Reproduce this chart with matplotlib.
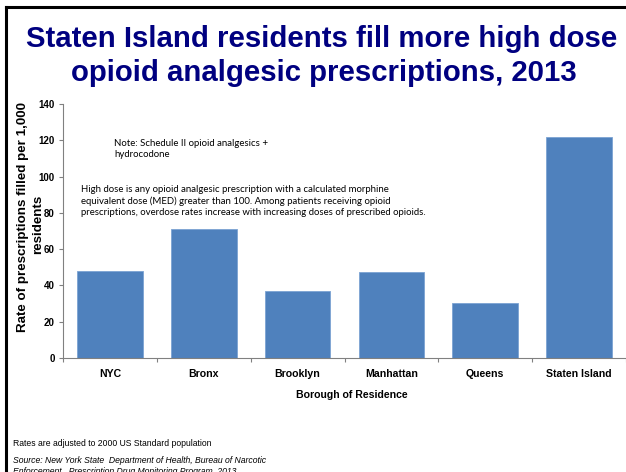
import matplotlib
matplotlib.use("Agg")
import matplotlib.pyplot as plt
from matplotlib.lines import Line2D

categories = ["NYC", "Bronx", "Brooklyn", "Manhattan", "Queens", "Staten Island"]
values = [47.7, 70.9, 37.0, 47.3, 30.4, 121.8]
yticks = [0, 20, 40, 60, 80, 100, 120, 140]

W, H = 626, 472
fig = plt.figure(figsize=(W / 100, H / 100), dpi=100)
fig.patch.set_facecolor("white")

# slide frame
fig.add_artist(Line2D([6 / W, 6 / W], [0, 1 - 7 / H], color="black", lw=2.2, transform=fig.transFigure))
fig.add_artist(Line2D([6 / W, 1], [1 - 7 / H, 1 - 7 / H], color="black", lw=2.2, transform=fig.transFigure))

title_font = "Liberation Sans"
fig.text(322 / W, 1 - 39 / H, "Staten Island residents fill more high dose",
         ha="center", va="center", fontsize=21.2, fontweight="bold", color="#000080", family=title_font)
fig.text(324 / W, 1 - 73 / H, "opioid analgesic prescriptions, 2013",
         ha="center", va="center", fontsize=21.2, fontweight="bold", color="#000080", family=title_font)

ax = fig.add_axes([63 / W, 1 - 358 / H, 1 - 63 / W, (358 - 104) / H])
x = list(range(len(categories)))
ax.bar(x, values, width=0.7, color="#4F81BD", edgecolor="#7BA3D3", linewidth=0.6, zorder=2)
ax.set_xlim(-0.5, len(categories) - 0.5)
ax.set_ylim(0, 140)
ax.set_yticks(yticks)
ax.set_yticklabels([str(v) for v in yticks], fontsize=7, fontweight="bold", family=title_font)
ax.set_xticks(x)
ax.set_xticklabels(categories, fontsize=7.6, fontweight="bold", family=title_font)
ax.tick_params(axis="x", length=0, pad=8)
ax.tick_params(axis="y", length=3, color="#808080", width=0.8, pad=3)
# minor ticks between categories
ax.set_xticks([i + 0.5 for i in range(-1, len(categories))], minor=True)
ax.tick_params(axis="x", which="minor", length=3, color="#808080", width=0.8, direction="out")
for s in ["top", "right"]:
    ax.spines[s].set_visible(False)
for s in ["left", "bottom"]:
    ax.spines[s].set_color("#808080")
    ax.spines[s].set_linewidth(0.8)

fig.text(352 / W, 1 - 395 / H, "Borough of Residence", ha="center", va="center",
         fontsize=7.6, fontweight="bold", family=title_font)

fig.text(23 / W, 1 - 217 / H, "Rate of prescriptions filled per 1,000", rotation=90,
         ha="center", va="center", fontsize=9.6, fontweight="bold", family=title_font)
fig.text(38 / W, 1 - 224 / H, "residents", rotation=90,
         ha="center", va="center", fontsize=9.6, fontweight="bold", family=title_font)

note_font = "Lato"
fig.text(114 / W, 1 - 149 / H, "Note: Schedule II opioid analgesics +\nhydrocodone",
         ha="left", va="center", fontsize=6.9, family=note_font, linespacing=1.3)
fig.text(81 / W, 1 - 201 / H,
         "High dose is any opioid analgesic prescription with a calculated morphine\n"
         "equivalent dose (MED) greater than 100. Among patients receiving opioid\n"
         "prescriptions, overdose rates increase with increasing doses of prescribed opioids.",
         ha="left", va="center", fontsize=6.95, family=note_font, linespacing=1.3)

fig.text(13 / W, 1 - 443 / H, "Rates are adjusted to 2000 US Standard population",
         ha="left", va="center", fontsize=6.25, family=title_font)
fig.text(13 / W, 1 - 466 / H,
         "Source: New York State  Department of Health, Bureau of Narcotic\n"
         "Enforcement,  Prescription Drug Monitoring Program, 2013",
         ha="left", va="center", fontsize=6.25, style="italic", family=title_font, linespacing=1.2)

fig.savefig("out.png", dpi=100)
